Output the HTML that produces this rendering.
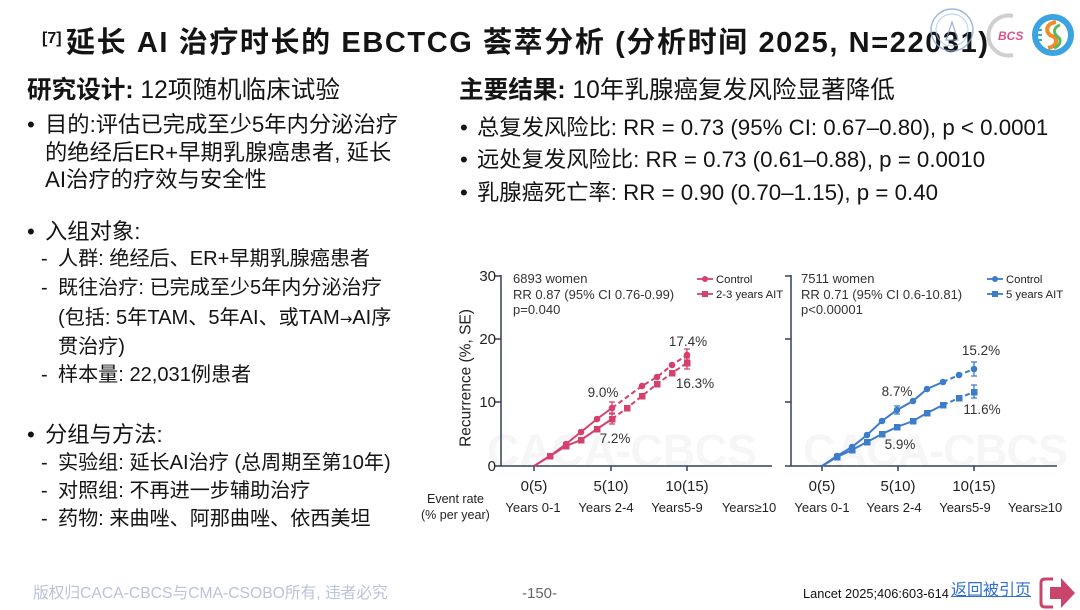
<!DOCTYPE html>
<html><head><meta charset="utf-8">
<style>
html,body{margin:0;padding:0;background:#fff;}
body{width:1080px;height:610px;position:relative;overflow:hidden;font-family:"Liberation Sans","Noto Sans CJK SC",sans-serif;color:#141414;}
.t{position:absolute;white-space:nowrap;}
.li{font-size:22.3px;line-height:28px;}
.sub{font-size:20.1px;line-height:28px;}
.b{font-weight:bold;}
</style></head><body>

<div class="t b" style="left:42px;top:30px;font-size:16px;line-height:18px;">[7]</div>
<div class="t b" style="left:66px;top:26px;font-size:29px;line-height:34px;letter-spacing:1.6px;">延长 AI 治疗时长的 EBCTCG 荟萃分析 (分析时间 2025, N=22031)</div>

<div class="t" style="left:27px;top:77px;font-size:24.6px;line-height:28px;"><span class="b">研究设计:</span> 12项随机临床试验</div>
<div class="t" style="left:459px;top:77px;font-size:24.6px;line-height:28px;"><span class="b">主要结果:</span> 10年乳腺癌复发风险显著降低</div>

<div class="t li" style="left:27px;top:111px;">•</div>
<div class="t li" style="left:45px;top:111px;">目的:评估已完成至少5年内分泌治疗</div>
<div class="t li" style="left:45px;top:139px;">的绝经后ER+早期乳腺癌患者, 延长</div>
<div class="t li" style="left:45px;top:166px;">AI治疗的疗效与安全性</div>

<div class="t li" style="left:27px;top:218px;">•</div>
<div class="t li" style="left:45px;top:218px;">入组对象:</div>
<div class="t sub" style="left:41px;top:245px;">-</div>
<div class="t sub" style="left:58px;top:245px;">人群: 绝经后、ER+早期乳腺癌患者</div>
<div class="t sub" style="left:41px;top:274px;">-</div>
<div class="t sub" style="left:58px;top:274px;">既往治疗: 已完成至少5年内分泌治疗</div>
<div class="t sub" style="left:58px;top:304px;">(包括: 5年TAM、5年AI、或TAM<span style="font-family:'DejaVu Sans',sans-serif;font-size:15px;">→</span>AI序</div>
<div class="t sub" style="left:58px;top:333px;">贯治疗)</div>
<div class="t sub" style="left:41px;top:361px;">-</div>
<div class="t sub" style="left:58px;top:361px;">样本量: 22,031例患者</div>

<div class="t li" style="left:27px;top:421px;">•</div>
<div class="t li" style="left:45px;top:421px;">分组与方法:</div>
<div class="t sub" style="left:41px;top:449px;">-</div>
<div class="t sub" style="left:58px;top:449px;">实验组: 延长AI治疗 (总周期至第10年)</div>
<div class="t sub" style="left:41px;top:477px;">-</div>
<div class="t sub" style="left:58px;top:477px;">对照组: 不再进一步辅助治疗</div>
<div class="t sub" style="left:41px;top:505px;">-</div>
<div class="t sub" style="left:58px;top:505px;">药物: 来曲唑、阿那曲唑、依西美坦</div>

<div class="t li" style="left:460px;top:114px;">•</div>
<div class="t li" style="left:477px;top:114px;">总复发风险比: RR = 0.73 (95% CI: 0.67–0.80), p &lt; 0.0001</div>
<div class="t li" style="left:460px;top:146px;">•</div>
<div class="t li" style="left:477px;top:146px;">远处复发风险比: RR = 0.73 (0.61–0.88), p = 0.0010</div>
<div class="t li" style="left:460px;top:179px;">•</div>
<div class="t li" style="left:477px;top:179px;">乳腺癌死亡率: RR = 0.90 (0.70–1.15), p = 0.40</div>

<div class="t" style="left:33px;top:584px;font-size:15.7px;line-height:20px;color:#b9c3da;">版权归CACA-CBCS与CMA-CSOBO所有, 违者必究</div>
<div class="t" style="left:522px;top:585px;font-size:15px;line-height:18px;color:#666;">-150-</div>
<div class="t" style="left:803px;top:586px;font-size:12.8px;line-height:16px;color:#111;">Lancet 2025;406:603-614</div>
<div class="t" style="left:951px;top:581px;font-size:16px;line-height:20px;color:#2e6fd0;text-decoration:underline;">返回被引页</div>

<svg width="1080" height="610" style="position:absolute;left:0;top:0" xmlns="http://www.w3.org/2000/svg" font-family="Liberation Sans, sans-serif">
  <!-- logos -->
  <g>
    <circle cx="952" cy="30" r="21" fill="none" stroke="#8aa6d4" stroke-width="1.5" opacity="0.8"/>
    <circle cx="952" cy="30" r="16" fill="none" stroke="#a9bde0" stroke-width="1" opacity="0.8"/>
    <path d="M946 40 L952 22 L958 40 Z" fill="none" stroke="#7f9fd0" stroke-width="1.2" opacity="0.8"/>
    <path d="M1013 16 A20 20 0 1 0 1013 55" fill="none" stroke="#cfcfcf" stroke-width="4"/>
    <text x="998" y="40" font-size="12" font-style="italic" font-weight="bold" fill="#d9558a">BCS</text>
    <circle cx="1053" cy="35" r="18" fill="#fff" stroke="#3aa3e0" stroke-width="6"/>
    <path d="M1056 22 C1044 24 1046 34 1052 36 C1058 38 1058 46 1048 48" fill="none" stroke="#f08a2a" stroke-width="4"/>
    <path d="M1060 25 C1052 28 1054 34 1058 37 C1062 40 1060 46 1054 48" fill="none" stroke="#5cb85c" stroke-width="3"/>
    <path d="M1036 30 l6 0 M1035 35 l7 0 M1036 40 l6 0" stroke="#3aa3e0" stroke-width="2"/>
  </g>

  <!-- watermarks -->
  <text x="487" y="466" font-size="45" font-weight="bold" fill="#f6f6f6" textLength="270">CACA-CBCS</text>
  <text x="803" y="466" font-size="45" font-weight="bold" fill="#f6f6f6" textLength="265">CACA-CBCS</text>

  <!-- axes -->
  <g stroke="#33405c" stroke-width="1.5" fill="none">
    <path d="M501 275 V466 H772"/>
    <path d="M495 276 H501 M495 339 H501 M495 402 H501 M495 466 H501"/>
    <path d="M534 466 V471 M611 466 V471 M687 466 V471"/>
    <path d="M791 275 V466 H1057"/>
    <path d="M785 276 H791 M785 339 H791 M785 402 H791 M785 466 H791"/>
    <path d="M822 466 V471 M898 466 V471 M974 466 V471"/>
  </g>
  <g font-size="15" fill="#222" text-anchor="end">
    <text x="496" y="281">30</text>
    <text x="496" y="344">20</text>
    <text x="496" y="407">10</text>
    <text x="496" y="471">0</text>
  </g>
  <g font-size="15" fill="#222" text-anchor="middle">
    <text x="534" y="491">0(5)</text>
    <text x="611" y="491">5(10)</text>
    <text x="687" y="491">10(15)</text>
    <text x="822" y="491">0(5)</text>
    <text x="898" y="491">5(10)</text>
    <text x="974" y="491">10(15)</text>
  </g>
  <g font-size="13" fill="#222" text-anchor="middle">
    <text x="533" y="512">Years 0-1</text>
    <text x="606" y="512">Years 2-4</text>
    <text x="677" y="512">Years5-9</text>
    <text x="749" y="512">Years≥10</text>
    <text x="822" y="512">Years 0-1</text>
    <text x="894" y="512">Years 2-4</text>
    <text x="965" y="512">Years5-9</text>
    <text x="1035" y="512">Years≥10</text>
  </g>
  <g font-size="12.5" fill="#222">
    <text x="427" y="503">Event rate</text>
    <text x="421" y="519">(% per year)</text>
  </g>
  <text transform="translate(466,378) rotate(-90)" font-size="15.5" fill="#222" text-anchor="middle" dominant-baseline="central">Recurrence (%, SE)</text>

  <!-- annotations -->
  <g font-size="13" fill="#333">
    <text x="513" y="283">6893 women</text>
    <text x="513" y="299">RR 0.87 (95% CI 0.76-0.99)</text>
    <text x="513" y="314">p=0.040</text>
    <text x="801" y="283">7511 women</text>
    <text x="801" y="299">RR 0.71 (95% CI 0.6-10.81)</text>
    <text x="801" y="314">p&lt;0.00001</text>
  </g>
  <!-- legends -->
  <g font-size="11.3" fill="#222">
    <path d="M697 279 H713" stroke="#d5416c" stroke-width="1.8"/>
    <circle cx="705" cy="279" r="3" fill="#d5416c"/>
    <text x="716" y="283">Control</text>
    <path d="M697 294 H713" stroke="#d5416c" stroke-width="1.8"/>
    <rect x="702" y="291" width="6" height="6" fill="#d5416c"/>
    <text x="716" y="298">2-3 years AIT</text>
    <path d="M987 279 H1003" stroke="#3d7cc9" stroke-width="1.8"/>
    <circle cx="995" cy="279" r="3" fill="#3d7cc9"/>
    <text x="1006" y="283">Control</text>
    <path d="M987 294 H1003" stroke="#3d7cc9" stroke-width="1.8"/>
    <rect x="992" y="291" width="6" height="6" fill="#3d7cc9"/>
    <text x="1006" y="298">5 years AIT</text>
  </g>

  <!-- left series -->
  <g stroke="#d5416c" stroke-width="2" fill="none">
    <polyline points="534,466 550,456 566,444 581,432 597,419 612,408"/>
    <polyline points="612,408 642,386 657,377 672,365 687,355" stroke-dasharray="5,3"/>
    <polyline points="534,466 550,456 566,446 581,440 597,429 612,419"/>
    <polyline points="612,419 627,408 642,396 657,384 672,373 687,363" stroke-dasharray="5,3"/>
    <path d="M612 402 V413 M609 402 H615 M609 413 H615" stroke-width="1.3"/>
    <path d="M612 414 V424 M609 414 H615 M609 424 H615" stroke-width="1.3"/>
    <path d="M687 349 V360 M684 349 H690 M684 360 H690" stroke-width="1.3"/>
    <path d="M687 358 V369 M684 358 H690 M684 369 H690" stroke-width="1.3"/>
  </g>
  <g fill="#d5416c">
    <circle cx="550" cy="456" r="3.3"/><circle cx="566" cy="444" r="3.3"/><circle cx="581" cy="432" r="3.3"/>
    <circle cx="597" cy="419" r="3.3"/><circle cx="612" cy="408" r="3.3"/><circle cx="642" cy="386" r="3.3"/>
    <circle cx="657" cy="377" r="3.3"/><circle cx="672" cy="365" r="3.3"/><circle cx="687" cy="355" r="3.3"/>
    <rect x="547" y="453" width="6.5" height="6.5"/><rect x="563" y="443" width="6.5" height="6.5"/>
    <rect x="578" y="437" width="6.5" height="6.5"/><rect x="594" y="426" width="6.5" height="6.5"/>
    <rect x="609" y="416" width="6.5" height="6.5"/><rect x="624" y="405" width="6.5" height="6.5"/>
    <rect x="639" y="393" width="6.5" height="6.5"/><rect x="654" y="381" width="6.5" height="6.5"/>
    <rect x="669" y="370" width="6.5" height="6.5"/><rect x="684" y="360" width="6.5" height="6.5"/>
  </g>

  <!-- right series -->
  <g stroke="#3d7cc9" stroke-width="2" fill="none">
    <polyline points="822,466 837,456 852,447 867,435 882,421 897,410 913,401 927,389 943,382"/>
    <polyline points="943,382 959,375 974,369" stroke-dasharray="5,3"/>
    <polyline points="822,466 837,457 852,450 867,442 882,434 897,427 913,421 927,413 943,405"/>
    <polyline points="943,405 959,398 974,392" stroke-dasharray="5,3"/>
    <path d="M974 362 V376 M971 362 H977 M971 376 H977" stroke-width="1.3"/>
    <path d="M974 385 V398 M971 385 H977 M971 398 H977" stroke-width="1.3"/>
    <path d="M897 406 V414 M894 406 H900 M894 414 H900" stroke-width="1.3"/>
  </g>
  <g fill="#3d7cc9">
    <circle cx="837" cy="456" r="3.3"/><circle cx="852" cy="447" r="3.3"/><circle cx="867" cy="435" r="3.3"/>
    <circle cx="882" cy="421" r="3.3"/><circle cx="897" cy="410" r="3.3"/><circle cx="913" cy="401" r="3.3"/>
    <circle cx="927" cy="389" r="3.3"/><circle cx="943" cy="382" r="3.3"/><circle cx="959" cy="375" r="3.3"/>
    <circle cx="974" cy="369" r="3.3"/>
    <rect x="834" y="454" width="6.5" height="6.5"/><rect x="849" y="447" width="6.5" height="6.5"/>
    <rect x="864" y="439" width="6.5" height="6.5"/><rect x="879" y="431" width="6.5" height="6.5"/>
    <rect x="894" y="424" width="6.5" height="6.5"/><rect x="910" y="418" width="6.5" height="6.5"/>
    <rect x="924" y="410" width="6.5" height="6.5"/><rect x="940" y="402" width="6.5" height="6.5"/>
    <rect x="956" y="395" width="6.5" height="6.5"/><rect x="971" y="389" width="6.5" height="6.5"/>
  </g>

  <!-- percent labels -->
  <g font-size="13.5" fill="#333" text-anchor="middle">
    <text x="603" y="397">9.0%</text>
    <text x="615" y="443">7.2%</text>
    <text x="688" y="346">17.4%</text>
    <text x="695" y="388">16.3%</text>
    <text x="897" y="396">8.7%</text>
    <text x="900" y="449">5.9%</text>
    <text x="981" y="355">15.2%</text>
    <text x="982" y="414">11.6%</text>
  </g>

  <!-- exit icon -->
  <path d="M1053 579 H1045 Q1041 579 1041 583 V603 Q1041 607 1045 607 H1053" fill="none" stroke="#c9456b" stroke-width="3"/>
  <polygon points="1050,587 1061,587 1061,578 1075,593 1061,608 1061,599 1050,599" fill="#c9456b"/>
</svg>
</body></html>
